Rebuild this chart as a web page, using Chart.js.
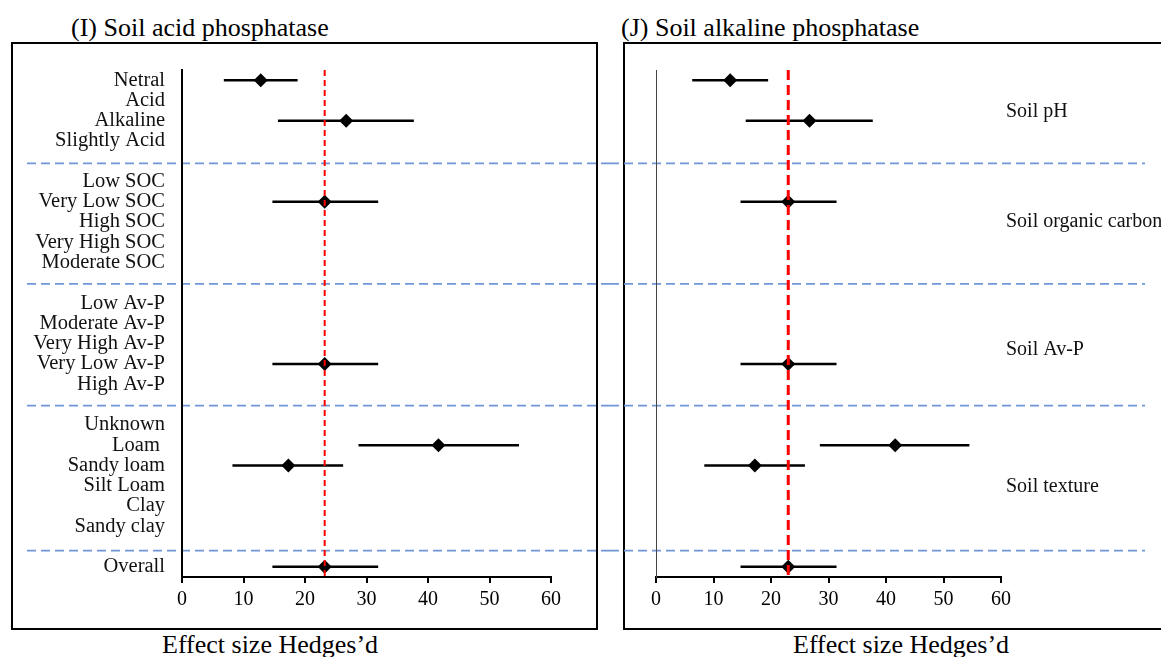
<!DOCTYPE html>
<html><head><meta charset="utf-8">
<script src="https://cdn.jsdelivr.net/npm/chart.js@4.4.0/dist/chart.umd.min.js"></script>
<style>
html,body{margin:0;padding:0;background:#fff;width:1161px;height:657px;overflow:hidden;position:relative;font-family:'Liberation Serif','Times New Roman',serif;}
.frame{position:absolute;border:2px solid #000;box-sizing:border-box;}
.txt{position:absolute;font-size:26px;line-height:26px;white-space:nowrap;color:#000;}
canvas{position:absolute;top:0;}
</style></head><body>
<div class="frame" style="left:11px;top:42px;width:587px;height:588px"></div>
<div class="frame" style="left:623px;top:42px;width:600px;height:588px"></div>
<div class="txt" style="left:71px;top:15px">(I) Soil acid phosphatase</div>
<div class="txt" style="left:621px;top:15px">(J) Soil alkaline phosphatase</div>
<div class="txt" style="left:162px;top:632px">Effect size Hedges’d</div>
<div class="txt" style="left:793px;top:632px">Effect size Hedges’d</div>
<canvas id="c1" width="610" height="657" style="left:0"></canvas>
<canvas id="c2" width="551" height="657" style="left:610px"></canvas>
<script>
// ---- data ----
const categories = ['Netral','Acid','Alkaline','Slightly Acid','',
  'Low SOC','Very Low SOC','High SOC','Very High SOC','Moderate SOC','',
  'Low Av-P','Moderate Av-P','Very High Av-P','Very Low Av-P','High Av-P','',
  'Unknown','Loam ','Sandy loam','Silt Loam','Clay','Sandy clay','',
  'Overall'];
const groupLabels = ['Soil pH','Soil organic carbon','Soil Av-P','Soil texture'];
const groupLabelRows = [1.55, 7, 13.3, 20.05];
const separatorRows = [4.1, 10.05, 16.05, 23.2];
const xMin = 0, xMax = 60, xStep = 10;

// (I) Soil acid phosphatase
const acidMean = [12.8,null,26.7,null,null, null,23.2,null,null,null,null, null,null,null,23.2,null,null, null,41.7,17.3,null,null,null,null, 23.2];
const acidLow  = [6.8, null,15.6,null,null, null,14.7,null,null,null,null, null,null,null,14.7,null,null, null,28.7,8.2, null,null,null,null, 14.7];
const acidHigh = [18.8,null,37.7,null,null, null,31.9,null,null,null,null, null,null,null,31.9,null,null, null,54.8,26.2,null,null,null,null, 31.9];
const acidRef = 23.2;

// (J) Soil alkaline phosphatase
const alkMean = [12.9,null,26.7,null,null, null,23.0,null,null,null,null, null,null,null,23.0,null,null, null,41.6,17.2,null,null,null,null, 23.0];
const alkLow  = [6.3, null,15.6,null,null, null,14.7,null,null,null,null, null,null,null,14.7,null,null, null,28.5,8.4, null,null,null,null, 14.7];
const alkHigh = [19.5,null,37.7,null,null, null,31.4,null,null,null,null, null,null,null,31.4,null,null, null,54.5,25.9,null,null,null,null, 31.4];
const alkRef = 23.0;

// ---- helpers ----
const FONT = "'Liberation Serif','Times New Roman',serif";
const yMin = -0.5, yMax = categories.length - 0.5;

function whiskerData(lo, hi){
  const d = [];
  lo.forEach((v,i)=>{ if(v==null) return; d.push({x:v,y:i},{x:hi[i],y:i},{x:null,y:null}); });
  return d;
}
function pointData(m){
  const d = [];
  m.forEach((v,i)=>{ if(v!=null) d.push({x:v,y:i}); });
  return d;
}
const separatorPlugin = {
  id:'separators',
  beforeDraw(chart, args, opts){
    const y = chart.scales.y, ctx = chart.ctx;
    ctx.save();
    ctx.strokeStyle = '#7096D6'; ctx.lineWidth = 1.7; ctx.setLineDash([9,5]);
    separatorRows.forEach(r=>{
      const py = y.getPixelForValue(r);
      ctx.beginPath(); ctx.moveTo(opts.x0, py); ctx.lineTo(opts.x1, py); ctx.stroke();
    });
    ctx.restore();
  }
};

function makeChart(id, mean, lo, hi, ref, cfg){
  const scales = {
    x: {
      type:'linear', min:xMin, max:xMax,
      ticks:{stepSize:xStep, autoSkip:false, color:'#000', padding:5, font:{family:FONT,size:20}, maxRotation:0},
      grid:{display:true, drawOnChartArea:false, drawTicks:true, tickLength:6, color:'#000', lineWidth:2},
      border:{display:true, color:'#000', width:2},
      afterFit(s){ s.height = 40; }
    },
    y: {
      type:'linear', reverse:true, min:yMin, max:yMax,
      grid:{display:false, drawTicks:false},
      border:{display:true, color:cfg.yBorderColor, width:cfg.yBorderWidth},
      ticks:{display:cfg.showCats, autoSkip:false, color:'#111', padding:17, font:{family:FONT,size:20.5},
        callback:(v)=>categories[v]},
      afterBuildTicks(s){ s.ticks = categories.map((c,i)=>({value:i})).filter(t=>categories[t.value].trim()!==''); },
      afterFit(s){ s.width = cfg.yWidth; }
    }
  };
  if (cfg.groups){
    scales.y2 = {
      type:'linear', position:'right', reverse:true, min:yMin, max:yMax,
      grid:{display:false, drawTicks:false},
      border:{display:false},
      ticks:{autoSkip:false, color:'#111', padding:5, font:{family:FONT,size:20},
        callback:(v,i)=>groupLabels[i]},
      afterBuildTicks(s){ s.ticks = groupLabelRows.map(v=>({value:v})); },
      afterFit(s){ s.width = cfg.y2Width; }
    };
  }
  return new Chart(document.getElementById(id), {
    type:'scatter',
    data:{ datasets:[
      {type:'line', data:[{x:ref,y:yMin},{x:ref,y:yMax}], borderColor:'#FF0000', borderWidth:cfg.refWidth,
        borderDash:cfg.refDash, pointRadius:0, order:0, yAxisID:'y'},
      {type:'scatter', data:pointData(mean), pointStyle:'rectRot', pointRadius:7, backgroundColor:'#000',
        borderWidth:0, order:1, yAxisID:'y'},
      {type:'line', data:whiskerData(lo,hi), borderColor:'#000', borderWidth:2.5, pointRadius:0,
        spanGaps:false, borderCapStyle:'butt', order:2, yAxisID:'y'}
    ]},
    options:{
      responsive:false, animation:false, devicePixelRatio:1, events:[],
      layout:{padding:cfg.padding},
      plugins:{legend:{display:false}, tooltip:{enabled:false}, separators:{x0:cfg.sepX0, x1:cfg.sepX1}},
      scales
    },
    plugins:[separatorPlugin]
  });
}

makeChart('c1', acidMean, acidLow, acidHigh, acidRef, {
  showCats:true, yWidth:182, yBorderColor:'#000', yBorderWidth:2,
  refWidth:2, refDash:[6,4], padding:{left:0,top:70,right:59,bottom:40},
  sepX0:27, sepX1:610, groups:false
});
makeChart('c2', alkMean, alkLow, alkHigh, alkRef, {
  showCats:false, yWidth:46, yBorderColor:'#444', yBorderWidth:1,
  refWidth:3, refDash:[10,5], padding:{left:0,top:70,right:0,bottom:40},
  sepX0:0, sepX1:535, groups:true, y2Width:160
});
</script>
</body></html>
